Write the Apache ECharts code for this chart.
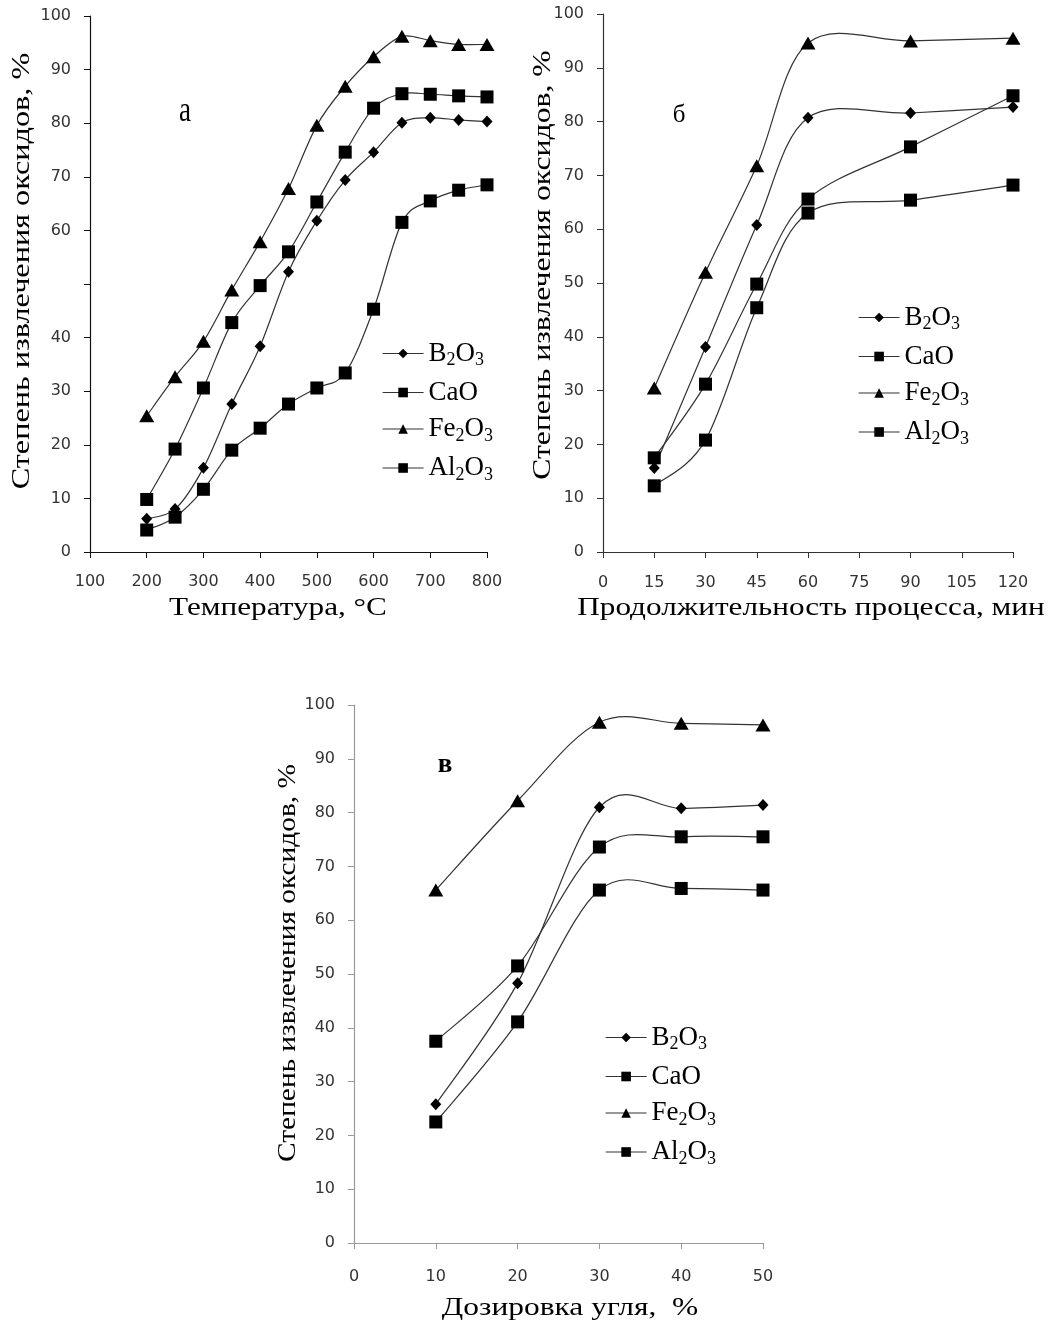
<!DOCTYPE html>
<html><head><meta charset="utf-8">
<script src="https://cdn.jsdelivr.net/npm/echarts@6/dist/echarts.min.js"></script>
<style>html,body{margin:0;padding:0;background:#fff}#c{width:1049px;height:1327px}</style>
</head><body><div id="c"></div>
<script>
// ---- Chart а: temperature ----
const tempX   = [200,250,300,350,400,450,500,550,600,650,700,750,800];
const tempB2O3  = [6.2,8.0,15.7,27.6,38.4,52.3,61.8,69.4,74.6,80.1,81.0,80.6,80.3];
const tempCaO   = [9.8,19.2,30.6,42.8,49.7,56.0,65.3,74.6,82.8,85.5,85.4,85.1,84.9];
const tempFe2O3 = [25.4,32.7,39.3,48.9,57.9,67.8,79.6,86.9,92.4,96.2,95.4,94.7,94.7];
const tempAl2O3 = [4.1,6.5,11.7,19.0,23.1,27.6,30.6,33.4,45.3,61.5,65.5,67.5,68.5];
// ---- Chart б: duration ----
const timeX   = [15,30,45,60,90,120];
const timeB2O3  = [15.6,38.1,60.8,80.7,81.6,82.7];
const timeCaO   = [17.5,31.2,49.8,65.6,75.3,84.8];
const timeFe2O3 = [30.5,52.0,71.8,94.6,95.0,95.5];
const timeAl2O3 = [12.3,20.8,45.4,63.0,65.4,68.2];
// ---- Chart в: carbon dosage ----
const doseX   = [10,20,30,40,50];
const doseB2O3  = [25.8,48.3,81.0,80.8,81.4];
const doseCaO   = [37.5,51.5,73.6,75.5,75.5];
const doseFe2O3 = [65.6,82.2,96.8,96.6,96.3];
const doseAl2O3 = [22.5,41.1,65.6,65.9,65.6];

const seriesNames = ['B2O3','CaO','Fe2O3','Al2O3'];
const richNames = {
  'B2O3':'{n|B}{s|2}{n|O}{s|3}',
  'CaO':'{n|CaO}',
  'Fe2O3':'{n|Fe}{s|2}{n|O}{s|3}',
  'Al2O3':'{n|Al}{s|2}{n|O}{s|3}'
};
const symbols = {
  'B2O3':{symbol:'diamond',size:[11,12]},
  'CaO':{symbol:'rect',size:13},
  'Fe2O3':{symbol:'triangle',size:[15,13]},
  'Al2O3':{symbol:'rect',size:13}
};
const LINE_COLOR = '#333';

const zip = (xs, ys) => xs.map((x,i)=>[x,ys[i]]);
// markers (and legend entry)
function markers(name, idx, xs, ys){
  return {
    type:'line', name, xAxisIndex:idx, yAxisIndex:idx,
    data: zip(xs, ys), z:3,
    symbol: symbols[name].symbol, symbolSize: symbols[name].size,
    lineStyle:{color:LINE_COLOR, width:1.2, opacity:0},
    itemStyle:{color:'#000'},
    emphasis:{disabled:true}, animation:false
  };
}
// smoothed connecting curve (Catmull-Rom through the library's coordinate mapping)
function curve(idx, xs, ys){
  const n = xs.length;
  return {
    type:'custom', coordinateSystem:'cartesian2d', xAxisIndex:idx, yAxisIndex:idx,
    data: zip(xs, ys), silent:true, z:2, animation:false,
    renderItem(params, api){
      const i = params.dataIndex;
      if (i >= n-1) return null;
      const P = k => { k = Math.max(0, Math.min(n-1, k)); return api.coord([xs[k], ys[k]]); };
      const p0=P(i-1), p1=P(i), p2=P(i+1), p3=P(i+2);
      const t = 1/6;
      return {
        type:'bezierCurve',
        shape:{
          x1:p1[0], y1:p1[1], x2:p2[0], y2:p2[1],
          cpx1:p1[0]+(p2[0]-p0[0])*t, cpy1:p1[1]+(p2[1]-p0[1])*t,
          cpx2:p2[0]-(p3[0]-p1[0])*t, cpy2:p2[1]-(p3[1]-p1[1])*t
        },
        style:{stroke:LINE_COLOR, lineWidth:1.2, fill:null}
      };
    }
  };
}

const tickFont = {fontFamily:'DejaVu Sans', fontSize:16, color:'#333'};
function yAx(idx, lineColor, hide50){
  return {
    type:'value', gridIndex:idx, min:0, max:100, interval:10,
    axisLine:{show:true, lineStyle:{color:lineColor,width:1.2}},
    axisTick:{show:true, length:6, lineStyle:{color:lineColor}},
    splitLine:{show:false},
    axisLabel:Object.assign({margin:19, formatter: v => (hide50 && v===50) ? '' : String(v)}, tickFont)
  };
}
function xAx(idx, min, max, interval, lineColor, margin){
  return {
    type:'value', gridIndex:idx, min, max, interval,
    axisLine:{show:true, onZero:false, lineStyle:{color:lineColor,width:1.2}},
    axisTick:{show:true, length:6, lineStyle:{color:lineColor}},
    splitLine:{show:false},
    axisLabel:Object.assign({margin}, tickFont)
  };
}
function legend(left, top){
  return {
    data: seriesNames, orient:'vertical', left, top, padding:0,
    itemWidth:41, itemHeight:12, itemGap:9.5, selectedMode:false,
    lineStyle:{color:LINE_COLOR, width:1.2, opacity:1},
    formatter: n => richNames[n],
    textStyle:{
      lineHeight:26,
      rich:{
        n:{fontFamily:'Liberation Serif', fontSize:27, color:'#000', lineHeight:26},
        s:{fontFamily:'Liberation Serif', fontSize:18, color:'#000', lineHeight:26, verticalAlign:'bottom', padding:[0,0,-3,0]}
      }
    }
  };
}
const serif = 'Liberation Serif';
function txt(x, y, text, rot, size, weight, sx){
  return {type:'text', x, y, rotation: rot||0, scaleX: sx||1, silent:true,
    style:{text, fill:'#000', font:(weight||'normal')+' '+(size||26)+'px "'+serif+'"', textAlign:'center', textVerticalAlign:'middle'}};
}

const option = {
  backgroundColor:'#fff',
  animation:false,
  grid:[
    {left:90, top:16, width:397, height:536},
    {left:603, top:14, width:410, height:538},
    {left:354, top:705, width:409, height:538}
  ],
  xAxis:[
    xAx(0, 100, 800, 100, '#111', 22),
    xAx(1, 0, 120, 15, '#333', 23),
    xAx(2, 0, 50, 10, '#999', 26)
  ],
  yAxis:[ yAx(0,'#111',true), yAx(1,'#333',false), yAx(2,'#999',false) ],
  legend:[ legend(382, 340), legend(858, 304), legend(605, 1024) ],
  series:[
    curve(0,tempX,tempB2O3), curve(0,tempX,tempCaO), curve(0,tempX,tempFe2O3), curve(0,tempX,tempAl2O3),
    curve(1,timeX,timeB2O3), curve(1,timeX,timeCaO), curve(1,timeX,timeFe2O3), curve(1,timeX,timeAl2O3),
    curve(2,doseX,doseB2O3), curve(2,doseX,doseCaO), curve(2,doseX,doseFe2O3), curve(2,doseX,doseAl2O3),
    markers('B2O3',0,tempX,tempB2O3), markers('CaO',0,tempX,tempCaO),
    markers('Fe2O3',0,tempX,tempFe2O3), markers('Al2O3',0,tempX,tempAl2O3),
    markers('B2O3',1,timeX,timeB2O3), markers('CaO',1,timeX,timeCaO),
    markers('Fe2O3',1,timeX,timeFe2O3), markers('Al2O3',1,timeX,timeAl2O3),
    markers('B2O3',2,doseX,doseB2O3), markers('CaO',2,doseX,doseCaO),
    markers('Fe2O3',2,doseX,doseFe2O3), markers('Al2O3',2,doseX,doseAl2O3)
  ],
  graphic:[
    txt(22, 271, 'Степень извлечения оксидов, %', Math.PI/2, 26, 'normal', 1.24),
    txt(278, 608, 'Температура, °C', 0, 26, 'normal', 1.2),
    txt(543, 265, 'Степень извлечения оксидов, %', Math.PI/2, 26, 'normal', 1.22),
    txt(811, 608, 'Продолжительность процесса, мин', 0, 26, 'normal', 1.2),
    txt(288, 963, 'Степень извлечения оксидов, %', Math.PI/2, 26, 'normal', 1.13),
    txt(570, 1308, 'Дозировка угля,  %', 0, 26, 'normal', 1.21),
    txt(185, 112, 'а', 0, 36, 'normal', 0.75),
    txt(679, 115, 'б', 0, 25),
    txt(445, 765, 'в', 0, 27, 'bold')
  ]
};
const chart = echarts.init(document.getElementById('c'), null, {renderer:'canvas'});
chart.setOption(option);
</script>
</body></html>
